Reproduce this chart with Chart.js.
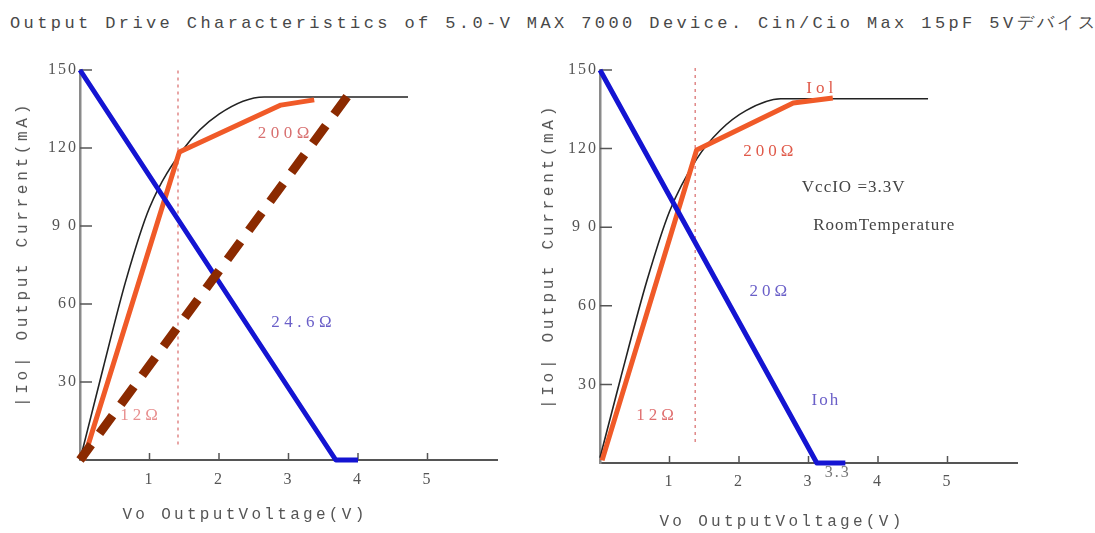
<!DOCTYPE html>
<html>
<head>
<meta charset="utf-8">
<script src="https://cdn.jsdelivr.net/npm/chart.js@4.4.0/dist/chart.umd.min.js"></script>
<style>
body{margin:0;width:1095px;height:533px;background:#fff;position:relative;overflow:hidden;font-family:'Liberation Mono',monospace;}
.box{position:absolute;top:0;height:533px;}
#leftBox{left:0;width:530px;}
#rightBox{left:530px;width:565px;}
#mainTitle{position:absolute;left:10px;top:11px;font-size:17px;letter-spacing:3.4px;color:#484848;white-space:nowrap;}
.ttl{position:absolute;color:#555;font-size:16px;letter-spacing:3.3px;white-space:nowrap;transform:translate(-50%,-50%);}
.ytl{transform:translate(-50%,-50%) rotate(-90deg);letter-spacing:3.7px;}
</style>
</head>
<body>
<div id="mainTitle">Output Drive Characteristics of 5.0-V MAX 7000 Device. Cin/Cio Max 15pF 5Vデバイス</div>
<div class="box" id="leftBox"><canvas id="leftChart"></canvas></div>
<div class="box" id="rightBox"><canvas id="rightChart"></canvas></div>
<div class="ttl" style="left:245px;top:515px;">Vo OutputVoltage(V)</div>
<div class="ttl" style="left:782px;top:522px;">Vo OutputVoltage(V)</div>
<div class="ttl ytl" style="left:23px;top:254px;">|Io| Output Current(mA)</div>
<div class="ttl ytl" style="left:549px;top:256px;">|Io| Output Current(mA)</div>
<script>
// axis ticks
const xTicks = [1, 2, 3, 4, 5];
const yTicks = [30, 60, 90, 120, 150];
const yTickText = ['30', '60', '9 0', '120', '150'];

// left plot, 5.0 V device (V, mA)
const lBlackV = [0, 0.33, 0.66, 1.0, 1.5, 2.0, 2.65, 4.72];
const lBlackI = [0, 35, 69, 97, 120, 133, 139.6, 139.6];
const lOrangeV = [0.05, 1.43, 2.89, 3.37];
const lOrangeI = [0, 118.5, 136.5, 138.5];
const lBlueV = [0, 3.68, 4.0];
const lBlueI = [150, 0, 0];
const lLoadV = [0, 3.85];
const lLoadI = [0, 140];
const lMarkV = [1.41, 1.41];
const lMarkI = [6, 151];

// right plot, VccIO = 3.3 V
const rBlackV = [0, 0.29, 0.68, 1.0, 1.39, 1.73, 2.1, 2.6, 4.72];
const rBlackI = [2, 31.7, 70, 96, 116, 127, 134.5, 139, 139];
const rOrangeV = [0.03, 1.39, 2.78, 3.35];
const rOrangeI = [1, 119.5, 137.4, 139.3];
const rBlueV = [0, 3.12, 3.53];
const rBlueI = [150, 0, 0];
const rMarkV = [1.37, 1.37];
const rMarkI = [8, 152];

function pts(vs, is){
    return vs.map((v, k) => ({x: v, y: is[k]}));
}

const RED = '#e05a4a';
const PURPLE = '#6a5fc8';

const leftNotes = [
    {text: '200Ω', x: 2.96, y: 125.4, color: '#d87070', font: '17px "Liberation Serif"', sp: '4.5px'},
    {text: '24.6Ω', x: 3.22, y: 52.7, color: PURPLE, font: '17px "Liberation Serif"', sp: '4.5px'},
    {text: '12Ω', x: 0.88, y: 17, color: '#e89090', font: '17px "Liberation Serif"', sp: '4px'}
];
const rightNotes = [
    {text: 'Iol', x: 3.19, y: 143, color: RED, font: '17px "Liberation Serif"', sp: '4px'},
    {text: '200Ω', x: 2.45, y: 119, color: RED, font: '17px "Liberation Serif"', sp: '4px'},
    {text: 'VccIO =3.3V', x: 3.65, y: 105.3, color: '#444', font: '17px "Liberation Serif"', sp: '1px'},
    {text: 'RoomTemperature', x: 4.09, y: 90.8, color: '#444', font: '17px "Liberation Serif"', sp: '1px'},
    {text: '20Ω', x: 2.45, y: 65.3, color: PURPLE, font: '17px "Liberation Serif"', sp: '4px'},
    {text: 'Ioh', x: 3.25, y: 24, color: PURPLE, font: '17px "Liberation Serif"', sp: '2px'},
    {text: '12Ω', x: 0.82, y: 18.3, color: '#e07070', font: '17px "Liberation Serif"', sp: '4px'},
    {text: '3.3', x: 3.42, y: -3.8, color: '#777', font: '16px "Liberation Serif"', sp: '2px'}
];

const inwardTicks = {
    id: 'inwardTicks',
    beforeDraw(chart){
        chart.ctx.letterSpacing = '2px';
    },
    beforeDatasetsDraw(chart){
        const {ctx, chartArea, scales} = chart;
        ctx.letterSpacing = '0px';
        ctx.save();
        ctx.strokeStyle = '#555';
        ctx.lineWidth = 1.5;
        ctx.beginPath();
        yTicks.forEach(v => {
            const y = scales.y.getPixelForValue(v);
            ctx.moveTo(chartArea.left, y);
            ctx.lineTo(chartArea.left + 12, y);
        });
        xTicks.forEach(v => {
            const x = scales.x.getPixelForValue(v);
            ctx.moveTo(x, chartArea.bottom);
            ctx.lineTo(x, chartArea.bottom - 7);
        });
        ctx.stroke();
        ctx.restore();
    },
    afterDatasetsDraw(chart){
        const {ctx, scales} = chart;
        const notes = chart.options.plugins.inwardTicks.notes || [];
        ctx.save();
        ctx.textAlign = 'center';
        ctx.textBaseline = 'middle';
        notes.forEach(n => {
            ctx.font = n.font;
            ctx.fillStyle = n.color;
            ctx.letterSpacing = n.sp;
            ctx.fillText(n.text, scales.x.getPixelForValue(n.x), scales.y.getPixelForValue(n.y));
        });
        ctx.restore();
        ctx.letterSpacing = '0px';
    }
};

function lineSet(data, color, width, order, extra){
    return Object.assign({
        data: data,
        borderColor: color,
        borderWidth: width,
        pointRadius: 0,
        fill: false,
        clip: false,
        order: order,
        borderJoinStyle: 'round'
    }, extra || {});
}

function makeChart(id, datasets, notes, yWidth, xHeight, padRight, labelPad){
    return new Chart(document.getElementById(id), {
        type: 'line',
        data: {datasets: datasets},
        options: {
            responsive: true,
            maintainAspectRatio: false,
            animation: false,
            layout: {padding: {top: 70, right: padRight, bottom: 0, left: 0}},
            plugins: {
                legend: {display: false},
                tooltip: {enabled: false},
                inwardTicks: {notes: notes}
            },
            scales: {
                x: {
                    type: 'linear',
                    min: 0,
                    max: 6,
                    afterBuildTicks: (scale) => { scale.ticks = xTicks.map(v => ({value: v})); },
                    afterFit: (scale) => { scale.height = xHeight; },
                    grid: {display: false, drawTicks: false},
                    border: {display: true, color: '#555', width: 2},
                    ticks: {
                        color: '#555',
                        padding: labelPad,
                        font: {family: 'Liberation Serif', size: 16},
                        callback: (v) => String(v)
                    }
                },
                y: {
                    type: 'linear',
                    min: 0,
                    max: 150,
                    afterBuildTicks: (scale) => { scale.ticks = yTicks.map(v => ({value: v})); },
                    afterFit: (scale) => { scale.width = yWidth; },
                    grid: {display: false, drawTicks: false},
                    border: {display: true, color: '#8a8a8a', width: 2.5},
                    ticks: {
                        color: '#555',
                        padding: 2,
                        font: {family: 'Liberation Serif', size: 16},
                        callback: (v) => yTickText[yTicks.indexOf(v)]
                    }
                }
            }
        },
        plugins: [inwardTicks]
    });
}

makeChart('leftChart', [
    lineSet(pts(lLoadV, lLoadI), '#8b2a00', 9, 0, {borderDash: [22, 14], borderDashOffset: 3, borderCapStyle: 'butt'}),
    lineSet(pts(lBlueV, lBlueI), '#1414d2', 5, 1),
    lineSet(pts(lOrangeV, lOrangeI), '#f05a28', 5, 2),
    lineSet(pts(lBlackV, lBlackI), '#222', 1.6, 3, {cubicInterpolationMode: 'monotone'}),
    lineSet(pts(lMarkV, lMarkI), '#e08888', 1.5, 4, {borderDash: [3, 4]})
], leftNotes, 80, 73, 33, 10);

makeChart('rightChart', [
    lineSet(pts(rBlueV, rBlueI), '#1414d2', 5, 1),
    lineSet(pts(rOrangeV, rOrangeI), '#f05a28', 5, 2),
    lineSet(pts(rBlackV, rBlackI), '#222', 1.6, 3, {cubicInterpolationMode: 'monotone'}),
    lineSet(pts(rMarkV, rMarkI), '#e08888', 1.5, 4, {borderDash: [3, 4]})
], rightNotes, 70, 70, 78, 9);
</script>
</body>
</html>
